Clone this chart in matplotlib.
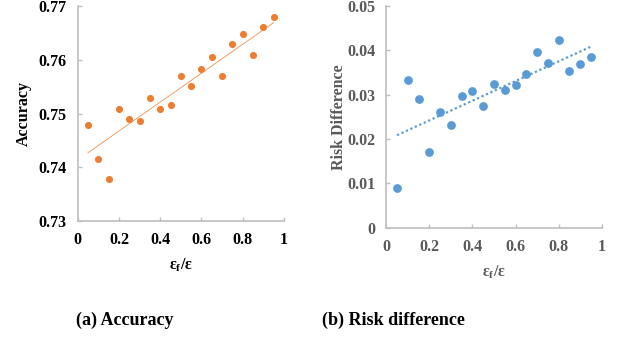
import numpy as np
import matplotlib
matplotlib.use("Agg")
import matplotlib.pyplot as plt

ratio = [0.05, 0.10, 0.15, 0.20, 0.25, 0.30, 0.35, 0.40, 0.45, 0.50,
         0.55, 0.60, 0.65, 0.70, 0.75, 0.80, 0.85, 0.90, 0.95]
accuracy = [0.7479, 0.7416, 0.7378, 0.7508, 0.7489, 0.7487, 0.7528, 0.7508, 0.7515, 0.7570,
            0.7552, 0.7583, 0.7606, 0.7570, 0.7629, 0.7647, 0.7609, 0.7661, 0.7679]
risk_diff = [0.0090, 0.0334, 0.0290, 0.0171, 0.0262, 0.0232, 0.0296, 0.0308, 0.0275, 0.0324,
             0.0311, 0.0322, 0.0347, 0.0397, 0.0371, 0.0424, 0.0353, 0.0370, 0.0385]
xticks = [0, 0.2, 0.4, 0.6, 0.8, 1]
xtick_labels = ["0", "0.2", "0.4", "0.6", "0.8", "1"]
acc_ticks = [0.73, 0.74, 0.75, 0.76, 0.77]
rd_ticks = [0, 0.01, 0.02, 0.03, 0.04, 0.05]

plt.rcParams['font.family'] = ['Liberation Serif', 'DejaVu Serif']
plt.rcParams['mathtext.fontset'] = 'custom'
plt.rcParams['mathtext.rm'] = 'Liberation Serif'
plt.rcParams['mathtext.it'] = 'Liberation Serif:italic'
plt.rcParams['mathtext.bf'] = 'Liberation Serif:bold'

fig = plt.figure(figsize=(6.18, 3.39), dpi=100)
ax1 = fig.add_axes([0.1257, 0.348, 0.3338, 0.6343])
ax2 = fig.add_axes([0.625, 0.3283, 0.3486, 0.654])

x = np.array(ratio)
spine_col = '#bfbfbf'

def style(ax, txtcol):
    for s in ['top', 'right']:
        ax.spines[s].set_visible(False)
    for s in ['left', 'bottom']:
        ax.spines[s].set_color(spine_col)
        ax.spines[s].set_linewidth(1.2)
    ax.tick_params(direction='in', length=3, width=1, color=spine_col,
                   labelsize=11.5, labelcolor=txtcol, pad=8)
    for lab in ax.get_xticklabels() + ax.get_yticklabels():
        lab.set_fontweight('bold')

# Left: accuracy
orange = '#ED7D31'
ax1.scatter(x, accuracy, s=26, color=orange, zorder=3, linewidths=0)
c = np.polyfit(x, accuracy, 1)
ax1.plot([x[0], x[-1]], np.polyval(c, [x[0], x[-1]]), color=orange, lw=0.6, alpha=0.85, zorder=2)
ax1.set_xlim(0, 1)
ax1.set_ylim(0.73, 0.77)
ax1.set_xticks(xticks)
ax1.set_xticklabels(xtick_labels)
ax1.set_yticks(acc_ticks)
ax1.set_yticklabels([f"{v:.2f}" for v in acc_ticks])
style(ax1, 'black')
ax1.set_ylabel("Accuracy", fontsize=11.5, fontweight='bold', color='black', labelpad=5)
ax1.set_xlabel(r"$\mathbf{\varepsilon_f/\varepsilon}$", fontsize=11.5, color='black', labelpad=6)

# Right: risk difference
blue = '#5B9BD5'
ax2.scatter(x, risk_diff, s=40, color=blue, zorder=3, linewidths=0)
c2 = np.polyfit(x, risk_diff, 1)
ax2.plot([x[0], x[-1]], np.polyval(c2, [x[0], x[-1]]), color=blue, lw=1.6,
         linestyle=(0, (1, 1.2)), zorder=2)
ax2.set_xlim(0, 1)
ax2.set_ylim(0, 0.05)
ax2.set_xticks(xticks)
ax2.set_xticklabels(xtick_labels)
ax2.set_yticks(rd_ticks)
ax2.set_yticklabels(["0", "0.01", "0.02", "0.03", "0.04", "0.05"])
style(ax2, '#595959')
ax2.set_ylabel("Risk Difference", fontsize=11.5, fontweight='bold', color='#595959', labelpad=0)
ax2.set_xlabel(r"$\mathbf{\varepsilon_f/\varepsilon}$", fontsize=11.5, color='#595959', labelpad=6)

fig.text(0.2023, 0.056, "(a) Accuracy", fontsize=13, fontweight='bold', ha='center', va='center')
fig.text(0.636, 0.056, "(b) Risk difference", fontsize=13, fontweight='bold', ha='center', va='center')

fig.savefig("out.png", dpi=100)
